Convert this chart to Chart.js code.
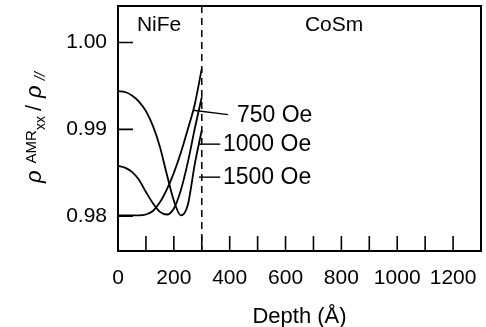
<!DOCTYPE html>
<html>
<head>
<meta charset="utf-8">
<style>
  html, body { margin: 0; padding: 0; background: #fff; }
  #wrap { width: 486px; height: 327px; }
</style>
<script src="https://cdn.jsdelivr.net/npm/chart.js@4/dist/chart.umd.min.js"></script>
</head>
<body>
<div id="wrap"><canvas id="amr-chart"></canvas></div>
<script>
(function() {
  // --depth profiles (Angstrom) and normalised AMR resistivity
  var depth = [0, 25, 50, 75, 100, 125, 150, 175, 200, 225, 250, 275, 300];
  var rho750 = [0.9801, 0.9801, 0.9801, 0.9801, 0.9802, 0.9806, 0.9816, 0.9831, 0.9850, 0.9873, 0.9900, 0.9929, 0.9970];
  var rho1000 = [0.9858, 0.9856, 0.9851, 0.9842, 0.9828, 0.9815, 0.9805, 0.9802, 0.9809, 0.9830, 0.9862, 0.9901, 0.9937];
  var rho1500 = [0.9944, 0.9943, 0.9939, 0.9932, 0.9921, 0.9904, 0.9880, 0.9848, 0.9818, 0.9801, 0.9813, 0.9860, 0.9899];

  var xTicks = [0, 100, 200, 300, 400, 500, 600, 700, 800, 900, 1000, 1100, 1200, 1300];
  var yTicks = [0.98, 0.99, 1.00];
  var interfaceDepth = 300;

  // --field labels with their leader lines (depth from/to, value)
  var fieldNames = ['750 Oe', '1000 Oe', '1500 Oe'];
  var leaderFrom = [269, 290, 290];
  var leaderTo = [394, 366, 366];
  var leaderFromVal = [0.9922, 0.9883, 0.9845];
  var leaderToVal = [0.9917, 0.9883, 0.9845];
  var fieldTextAt = [426, 376, 376];

  var layers = [{name: 'NiFe', at: 147}, {name: 'CoSm', at: 774}];
  var layerVal = 1.0020;

  var FONT = '"Liberation Sans", Arial, Helvetica, sans-serif';

  function toPoints(values) {
    return values.map(function(v, i) { return {x: depth[i], y: v}; });
  }

  function lineSet(values) {
    return {
      data: toPoints(values),
      borderColor: '#000',
      borderWidth: 1.8,
      pointRadius: 0,
      fill: false,
      cubicInterpolationMode: 'monotone'
    };
  }

  // fixed box sizes, no extra label overhang padding
  function fixBox(prop, size) {
    return function(s) {
      s[prop] = size;
      s.paddingTop = s.paddingBottom = s.paddingLeft = s.paddingRight = 0;
    };
  }

  var decor = {
    id: 'decor',
    afterDraw: function(chart) {
      var ctx = chart.ctx, a = chart.chartArea;
      var xs = chart.scales.x, ys = chart.scales.y;
      ctx.save();
      ctx.strokeStyle = '#000';
      ctx.fillStyle = '#000';

      // frame
      ctx.lineWidth = 2;
      ctx.strokeRect(a.left, a.top, a.right - a.left, a.bottom - a.top);

      // inward ticks
      ctx.lineWidth = 1.6;
      ctx.beginPath();
      xTicks.forEach(function(v) {
        if (v === 0 || v === 1300) return;
        var px = xs.getPixelForValue(v);
        ctx.moveTo(px, a.bottom);
        ctx.lineTo(px, a.bottom - 15);
      });
      yTicks.forEach(function(v) {
        var py = ys.getPixelForValue(v);
        ctx.moveTo(a.left, py);
        ctx.lineTo(a.left + 15, py);
      });
      ctx.stroke();

      // NiFe / CoSm interface
      var ix = xs.getPixelForValue(interfaceDepth);
      ctx.setLineDash([7, 5]);
      ctx.lineWidth = 1.5;
      ctx.beginPath();
      ctx.moveTo(ix, a.top);
      ctx.lineTo(ix, a.bottom);
      ctx.stroke();
      ctx.setLineDash([]);

      // layer names
      ctx.font = '21px ' + FONT;
      ctx.textAlign = 'center';
      ctx.textBaseline = 'middle';
      layers.forEach(function(l) {
        ctx.fillText(l.name, xs.getPixelForValue(l.at), ys.getPixelForValue(layerVal));
      });

      // field labels + leaders
      ctx.lineWidth = 1.4;
      ctx.font = '23px ' + FONT;
      ctx.textAlign = 'left';
      fieldNames.forEach(function(name, i) {
        ctx.beginPath();
        ctx.moveTo(xs.getPixelForValue(leaderFrom[i]), ys.getPixelForValue(leaderFromVal[i]));
        ctx.lineTo(xs.getPixelForValue(leaderTo[i]), ys.getPixelForValue(leaderToVal[i]));
        ctx.stroke();
        ctx.fillText(name, xs.getPixelForValue(fieldTextAt[i]), ys.getPixelForValue(leaderToVal[i]) + 1);
      });

      // x axis title
      ctx.font = '22px ' + FONT;
      ctx.textAlign = 'center';
      ctx.fillText('Depth (\u00c5)', (a.left + a.right) / 2, 317);

      // y axis title: rho^AMR_xx / rho_//
      ctx.translate(41, 183);
      ctx.rotate(-Math.PI / 2);
      ctx.textAlign = 'left';
      ctx.textBaseline = 'alphabetic';
      var x = 0;
      function piece(txt, font, dy, gapAfter) {
        ctx.font = font;
        ctx.fillText(txt, x, dy);
        x += ctx.measureText(txt).width + (gapAfter || 0);
      }
      piece('\u03c1', 'italic 22px ' + FONT, 0, 7);
      piece('AMR', '15px ' + FONT, -5, 0);
      piece('xx', '14px ' + FONT, 4, 5);
      piece('/', '22px ' + FONT, 0, 7);
      piece('\u03c1', 'italic 22px ' + FONT, 0, 5);
      piece('//', 'italic 15px ' + FONT, 4, 0);
      ctx.restore();
    }
  };

  new Chart(document.getElementById('amr-chart'), {
    type: 'line',
    data: {
      datasets: [lineSet(rho750), lineSet(rho1000), lineSet(rho1500)]
    },
    options: {
      responsive: true,
      maintainAspectRatio: false,
      animation: false,
      layout: {padding: {top: 6, right: 5, left: 0, bottom: 0}},
      plugins: {legend: {display: false}, tooltip: {enabled: false}},
      scales: {
        x: {
          type: 'linear',
          min: 0,
          max: 1300,
          afterBuildTicks: function(s) { s.ticks = xTicks.map(function(v) { return {value: v}; }); },
          afterFit: fixBox('height', 76),
          grid: {display: false, drawTicks: false},
          border: {display: false},
          ticks: {
            autoSkip: false,
            maxRotation: 0,
            padding: 15,
            color: '#000',
            font: {family: FONT, size: 21},
            callback: function(v) { return (v % 200 === 0 && v <= 1200) ? String(v) : ''; }
          }
        },
        y: {
          type: 'linear',
          min: 0.976,
          max: 1.0042,
          afterBuildTicks: function(s) { s.ticks = yTicks.map(function(v) { return {value: v}; }); },
          afterFit: fixBox('width', 118),
          grid: {display: false, drawTicks: false},
          border: {display: false},
          ticks: {
            padding: 11,
            color: '#000',
            font: {family: FONT, size: 21},
            callback: function(v) { return v.toFixed(2); }
          }
        }
      }
    },
    plugins: [decor]
  });
}());
</script>
</body>
</html>
